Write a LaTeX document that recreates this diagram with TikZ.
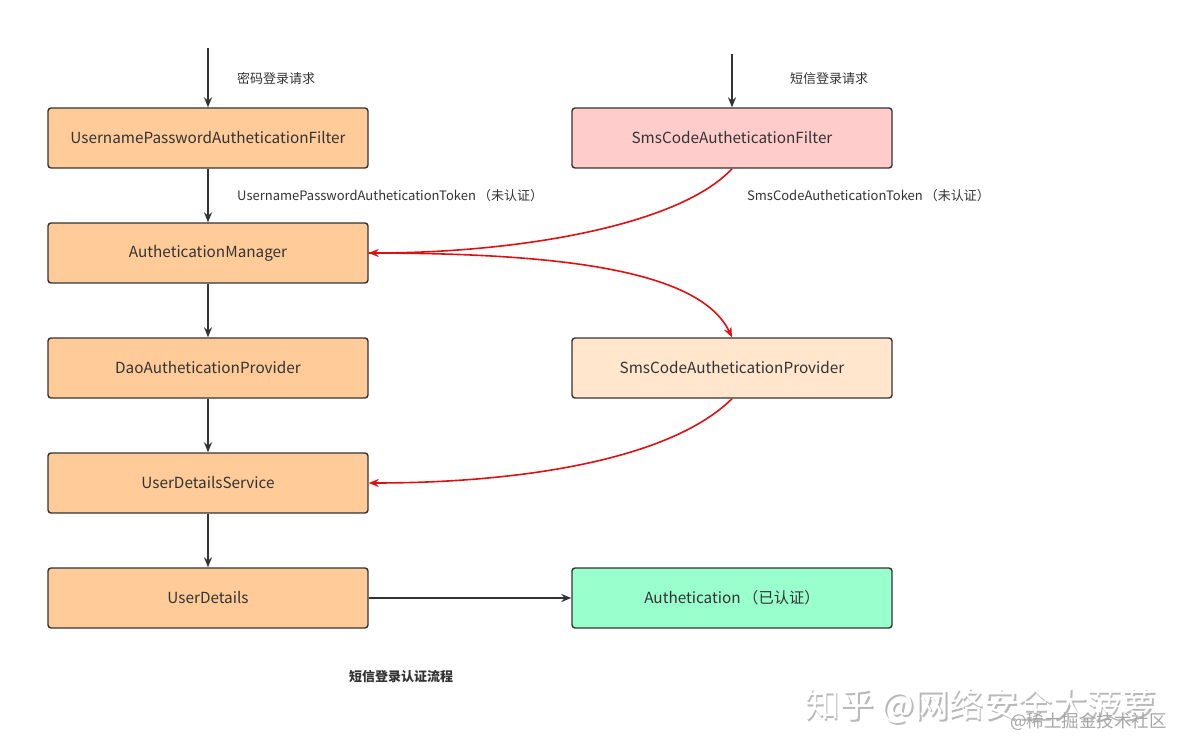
\documentclass[tikz,border=0pt]{standalone}
\usepackage{fontspec}
\setmainfont{Noto Sans CJK SC}
\usetikzlibrary{arrows.meta}
\definecolor{orng}{HTML}{FFCC99}
\definecolor{pnk}{HTML}{FFCCCC}
\definecolor{peach}{HTML}{FFE6CC}
\definecolor{grn}{HTML}{99FFCC}
\definecolor{edge}{HTML}{333333}
\definecolor{redline}{HTML}{DD1111}
\tikzset{
  box/.style={draw=edge, line width=1.4pt, rounded corners=3pt, minimum width=320pt, minimum height=60pt, inner sep=0pt, font=\fontsize{15.3}{17}\selectfont, text=edge},
  blk/.style={draw=edge, line width=1.6pt, -{Stealth[length=10pt,width=8pt]}},
  rd/.style={draw=redline, line width=1.6pt, -{Stealth[length=10pt,width=8pt]}},
  lbl/.style={font=\fontsize{13}{15}\selectfont, text=edge, anchor=west, inner sep=0pt},
}
\begin{document}
\begin{tikzpicture}[x=1pt,y=-1pt]
\useasboundingbox[fill=white] (0,0) rectangle (1192,754);
% left column
\node[box, fill=orng] (upf) at (208,138) {UsernamePasswordAutheticationFilter};
\node[box, fill=orng] (mgr) at (208,253) {AutheticationManager};
\node[box, fill=orng] (dao) at (208,368) {DaoAutheticationProvider};
\node[box, fill=orng] (uds) at (208,483) {UserDetailsService};
\node[box, fill=orng] (ud) at (208,598) {UserDetails};
% right column
\node[box, fill=pnk] (smsf) at (732,138) {SmsCodeAutheticationFilter};
\node[box, fill=peach] (smsp) at (732,368) {SmsCodeAutheticationProvider};
\node[box, fill=grn] (auth) at (732,598) {Authetication\,（已认证）};
% entry points
\coordinate (in1) at (208,48);
\coordinate (in2) at (732,54);
\draw[blk] (in1) -- (upf.north);
\draw[blk] (in2) -- (smsf.north);
\node[lbl] (l1) at (237,79) {密码登录请求};
\node[lbl] (l2) at (790,79) {短信登录请求};
% black chain
\draw[blk] (upf.south) -- (mgr.north);
\draw[blk] (mgr.south) -- (dao.north);
\draw[blk] (dao.south) -- (uds.north);
\draw[blk] (uds.south) -- (ud.north);
\draw[blk] (ud.east) -- (auth.west);
\node[lbl] (t1) at (237,196) {UsernamePasswordAutheticationToken\,（未认证）};
\node[lbl] (t2) at (747,196) {SmsCodeAutheticationToken\,（未认证）};
% red curves
\draw[rd] (smsf.south) .. controls (680,225) and (520,253) .. (mgr.east);
\draw[rd] (mgr.east) .. controls (560,253) and (700,270) .. (smsp.north);
\draw[rd] (smsp.south) .. controls (670,460) and (520,483) .. (uds.east);
% title
\node[font=\fontsize{13}{15}\bfseries\selectfont, text=edge, inner sep=0pt] (title) at (401,677) {短信登录认证流程};
% watermark
\node[font=\fontsize{34.5}{36}\selectfont, text=gray!55, inner sep=0pt, anchor=west] (wm1s) at (806.5,707.5) {知乎 @网络安全大菠萝};
\node[font=\fontsize{34.5}{36}\selectfont, text=white, inner sep=0pt, anchor=west] (wm1) at (805,706) {知乎 @网络安全大菠萝};
\node[font=\fontsize{17.5}{19}\selectfont, text=gray!70, inner sep=0pt, anchor=west] (wm2) at (1010,722) {@稀土掘金技术社区};
\end{tikzpicture}
\end{document}
